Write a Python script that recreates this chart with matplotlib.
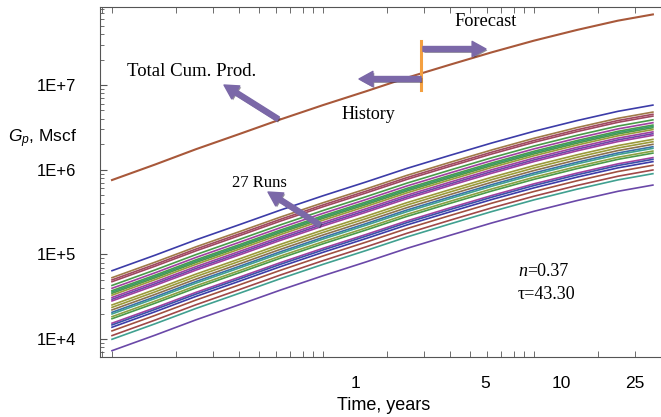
import matplotlib
matplotlib.use("Agg")
import matplotlib.pyplot as plt
import matplotlib.patheffects as pe
import numpy as np
from matplotlib.ticker import LogLocator, FixedLocator, NullFormatter

plt.rcParams['mathtext.fontset'] = 'custom'
plt.rcParams['mathtext.rm'] = 'Liberation Sans'
plt.rcParams['mathtext.it'] = 'Liberation Sans:italic'

# total cumulative production, Mscf
years = [0.1, 0.16, 0.25, 0.4, 0.63, 1.0, 1.6, 2.5, 4.0, 6.3, 10, 16, 25, 36.6]
total_cum = [7.55e5, 1.151e6, 1.746e6, 2.63e6, 3.93e6, 5.79e6, 8.43e6, 1.219e7,
             1.738e7, 2.43e7, 3.34e7, 4.47e7, 5.75e7, 6.81e7]

# the 27 runs: value at 0.1 yr, they follow the same growth as the total
run_start = [6.42e4, 5.31e4, 5.0e4, 4.76e4, 4.3e4, 3.98e4, 3.73e4, 3.6e4, 3.47e4,
             3.3e4, 3.1e4, 2.95e4, 2.82e4, 2.53e4, 2.37e4, 2.21e4, 2.07e4, 1.98e4,
             1.84e4, 1.74e4, 1.54e4, 1.47e4, 1.38e4, 1.25e4, 1.10e4, 9.95e3, 7.3e3]
run_colors = ['#3c3ca8', '#a07a48', '#a04860', '#a04860', '#4a9a48', '#a040a0',
              '#4a9a48', '#3a9a70', '#4a9a48', '#9a9a3a', '#a040a0', '#6a48a8',
              '#a040a0', '#9a9a3a', '#9a9a3a', '#8a7050', '#3a70a8', '#40a090',
              '#8aa040', '#4a9a48', '#a040a0', '#3a50a8', '#3c3ca8', '#a05040',
              '#a04848', '#40a090', '#6a48a8']

y_ticks = [1e4, 1e5, 1e6, 1e7]
y_labels = ['1E+4', '1E+5', '1E+6', '1E+7']
x_labels = ['1', '5', '10', '25']
x_label_at = [1.42, 5.9, 13.4, 30.1]

W, H = 661, 417


def fpx(x, y):
    return x / W, 1 - y / H


fig = plt.figure(figsize=(W / 100, H / 100), dpi=100)
ax = fig.add_axes([100 / W, 60 / H, 561 / W, 350 / H])
ax.set_xscale('log')
ax.set_yscale('log')

profile = np.array(total_cum) / total_cum[0]
for start, c in zip(run_start, run_colors):
    ax.plot(years, start * profile, color=c, lw=1.2)
ax.plot(years, total_cum, color='#a8583a', lw=1.5)

ax.set_xlim(10 ** (-223 / 211), 10 ** (338 / 211))
ax.set_ylim(10 ** (7 - 272 / 84.7), 10 ** (7 + 78 / 84.7))

ax.yaxis.set_major_locator(FixedLocator(y_ticks))
ax.set_yticklabels(y_labels)
ax.yaxis.set_minor_locator(LogLocator(base=10, subs=np.arange(2, 10)))
ax.yaxis.set_minor_formatter(NullFormatter())

ax.set_xticks(x_label_at)
ax.set_xticklabels(x_labels)
ax.xaxis.set_minor_locator(LogLocator(base=10, subs=np.arange(1, 10)))
ax.xaxis.set_minor_formatter(NullFormatter())

for s in ['left', 'top', 'bottom']:
    ax.spines[s].set_color('#555555')
ax.spines['right'].set_visible(False)

ax.tick_params(axis='x', which='major', length=0, pad=14, labelsize=12.5,
               labelfontfamily='Liberation Sans')
ax.tick_params(axis='x', which='minor', direction='in', length=4, top=True,
               color='#555555')
ax.tick_params(axis='y', which='major', direction='in', length=5, pad=17,
               labelsize=12, labelfontfamily='Liberation Sans', color='#555555')
ax.tick_params(axis='y', which='minor', direction='in', length=3,
               color='#555555')

ax.text(0.506, -0.113, 'Time, years', transform=ax.transAxes, ha='center',
        va='top', fontsize=13, family='Liberation Sans')
fig.text(*fpx(8, 142), r'$G_p$, Mscf', fontsize=12.5, va='baseline',
         family='Liberation Sans')

serif = dict(family='Liberation Serif', va='baseline', ha='left')
fig.text(*fpx(127, 76), 'Total Cum. Prod.', fontsize=13.5, **serif)
fig.text(*fpx(454, 26), 'Forecast', fontsize=13.2, **serif)
fig.text(*fpx(342, 119), 'History', fontsize=13, **serif)
fig.text(*fpx(232, 187), '27 Runs', fontsize=12, **serif)
fig.text(*fpx(518, 276), 'n', fontsize=13, style='italic', **serif)
fig.text(*fpx(527, 276), '=0.37', fontsize=13, **serif)
fig.text(*fpx(518, 299), 'τ=43.30', fontsize=13, **serif)

# history / forecast split
ax.add_line(plt.Line2D([421 / W, 421 / W], [1 - 41 / H, 1 - 90 / H],
                       transform=fig.transFigure, color='#f4a040', lw=2.2))

arrow_style = 'simple,head_length=10,head_width=11,tail_width=3.6'
shadow = [pe.SimplePatchShadow(offset=(1, -1), alpha=0.5), pe.Normal()]
arrows = [((278, 119), (224, 85)), ((320, 225), (268, 192)),
          ((421, 79), (359, 79)), ((423, 49), (486, 49))]
for tail, tip in arrows:
    ax.annotate('', xy=fpx(*tip), xycoords='figure fraction',
                xytext=fpx(*tail), textcoords='figure fraction',
                arrowprops=dict(arrowstyle=arrow_style, mutation_scale=1,
                                color='#7b68a8', shrinkA=0, shrinkB=0,
                                path_effects=shadow))

fig.savefig('out.png', dpi=100)
